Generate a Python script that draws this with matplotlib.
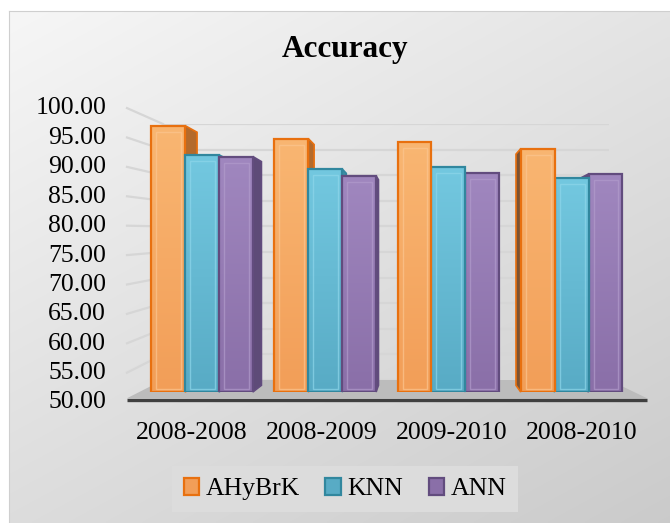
import numpy as np
import matplotlib
matplotlib.use("Agg")
import matplotlib.pyplot as plt
from matplotlib.patches import Polygon, Rectangle, Patch
from matplotlib.lines import Line2D

# ---- data -------------------------------------------------------------
periods = ["2008-2008", "2008-2009", "2009-2010", "2008-2010"]
series_names = ["AHyBrK", "KNN", "ANN"]
ahybrk = [97.4, 95.1, 94.4, 93.3]
knn = [92.2, 89.7, 90.0, 88.0]
ann = [91.9, 88.5, 89.0, 88.8]
y_ticks = [50, 55, 60, 65, 70, 75, 80, 85, 90, 95, 100]

# ---- styling ----------------------------------------------------------
SERIF = ["Liberation Serif", "DejaVu Serif"]
styles = {
    "AHyBrK": dict(top="#F9B672", bottom="#F29E58", edge="#E8700F",
                   inner="#FBC590", side_r="#B36A2C", side_l="#7A5233"),
    "KNN": dict(top="#73C8E0", bottom="#58ABC5", edge="#31879E",
                inner="#8ED6EA", side_r="#3E8DA4", side_l="#3E8DA4"),
    "ANN": dict(top="#A087BF", bottom="#8A6FA8", edge="#624C7E",
                inner="#B19BCB", side_r="#5E4B78", side_l="#5E4B78"),
}

W, H = 670, 523
fig = plt.figure(figsize=(W / 100, H / 100), dpi=100)
fig.patch.set_facecolor("white")


def box(l, t, r, b):
    return [l / W, 1 - b / H, (r - l) / W, (b - t) / H]


# chart area background: soft diagonal grey gradient
bg_ax = fig.add_axes(box(9, 11, 670, 523))
bg_ax.set_zorder(-10)
gx, gy = np.meshgrid(np.linspace(0, 1, 200), np.linspace(0, 1, 200))
shade = 0.965 - 0.10 * gy - 0.07 * gx
bg_ax.imshow(np.dstack([shade, shade, shade]), aspect="auto",
             extent=(0, 1, 0, 1), origin="upper", interpolation="bilinear")
bg_ax.set_xlim(0, 1)
bg_ax.set_ylim(0, 1)
for s in bg_ax.spines.values():
    s.set_visible(False)
bg_ax.spines["top"].set_visible(True)
bg_ax.spines["left"].set_visible(True)
bg_ax.spines["top"].set_color("#cfcfcf")
bg_ax.spines["left"].set_color("#cfcfcf")
bg_ax.set_xticks([])
bg_ax.set_yticks([])

# back wall with horizontal gridlines
wall_ax = fig.add_axes(box(163, 124, 609, 380))
wall_ax.set_zorder(0)
wall_ax.set_facecolor("none")
wall_ax.set_xlim(0, 1)
wall_ax.set_ylim(50, 100)
wall_ax.set_yticks(y_ticks)
wall_ax.set_xticks([])
wall_ax.tick_params(left=False, labelleft=False)
wall_ax.yaxis.grid(True, color="#d6d6d6", lw=1.6)
for s in wall_ax.spines.values():
    s.set_visible(False)

# front plane carrying the axis labels
label_ax = fig.add_axes(box(127, 106, 647, 400))
label_ax.set_zorder(0.2)
label_ax.set_facecolor("none")
label_ax.set_xlim(-0.5, len(periods) - 0.5)
label_ax.set_ylim(50, 100)
label_ax.set_yticks(y_ticks)
label_ax.set_yticklabels([f"{v:.2f}" for v in y_ticks], fontfamily=SERIF,
                         fontsize=18.5)
label_ax.set_xticks(range(len(periods)))
label_ax.set_xticklabels(periods, fontfamily=SERIF, fontsize=18.5)
label_ax.tick_params(axis="y", length=0, pad=15)
label_ax.tick_params(axis="x", length=0, pad=16)
for s in label_ax.spines.values():
    s.set_visible(False)

to_fig = fig.transFigure.inverted()


def fig_pt(axis, x, y):
    return to_fig.transform(axis.transData.transform((x, y)))


# side wall gridlines running from the front plane to the back wall
for v in y_ticks[1:]:
    p0 = fig_pt(label_ax, -0.5, v)
    p1 = fig_pt(wall_ax, 0, v)
    fig.add_artist(Line2D([p0[0], p1[0]], [p0[1] - 0.004, p1[1]],
                          transform=fig.transFigure, color="#d6d6d6",
                          lw=1.6, zorder=0.1))

# floor
floor = [fig_pt(wall_ax, 0, 50), fig_pt(wall_ax, 1, 50),
         fig_pt(label_ax, len(periods) - 0.5, 50.3),
         fig_pt(label_ax, -0.5, 50.3)]
fig.add_artist(Polygon(floor, closed=True, transform=fig.transFigure,
                       facecolor="#bcbcbc", edgecolor="none", zorder=0.5))
f0 = fig_pt(label_ax, -0.5, 50)
f1 = fig_pt(label_ax, len(periods) - 0.5, 50)
fig.add_artist(Line2D([f0[0], f1[0]], [f0[1], f1[1]],
                      transform=fig.transFigure, color="#404040", lw=2.4,
                      solid_capstyle="butt", zorder=0.6))

# ---- bars -------------------------------------------------------------
ax = fig.add_axes(box(140.4, 111, 633.2, 392))
ax.set_zorder(1)
ax.set_facecolor("none")
ax.axis("off")
ax.set_xlim(-0.5, len(periods) - 0.5)
ax.set_ylim(50, 100)
ax.set_autoscale_on(False)

values = {"AHyBrK": ahybrk, "KNN": knn, "ANN": ann}
width = 0.275
x = np.arange(len(periods))
vp = np.array([425.0, H - 258.0])   # vanishing point (display px)
depth = 0.05

grad = np.linspace(0, 1, 64).reshape(-1, 1)


def back(p):
    p = np.asarray(p, float)
    return p + depth * (vp - p)


for si, name in enumerate(series_names):
    st = styles[name]
    offs = (si - 1) * width
    c_top = np.array(matplotlib.colors.to_rgb(st["top"]))
    c_bot = np.array(matplotlib.colors.to_rgb(st["bottom"]))
    img = c_top[None, None, :] * (1 - grad[:, :, None]) + \
        c_bot[None, None, :] * grad[:, :, None]
    for gi, val in enumerate(values[name]):
        x0 = x[gi] + offs - width / 2
        x1 = x0 + width
        # bars left of the vanishing point stack left-to-right, others reversed
        cx_disp = ax.transData.transform((x[gi], 50))[0]
        order = si if cx_disp < vp[0] else (2 - si)
        z = 3 + order * 0.1

        bar = ax.bar(x[gi] + offs, val - 50, width=width, bottom=50,
                     facecolor="none", edgecolor=st["edge"], lw=1.6,
                     zorder=z + 0.04)[0]
        im = ax.imshow(img, extent=(x0, x1, 50, val), aspect="auto",
                       zorder=z + 0.02, interpolation="bilinear")
        im.set_clip_path(bar)

        # depth face on the side facing the viewer
        inv = ax.transData.inverted()
        (dl, db) = ax.transData.transform((x0, 50))
        (dr, dt) = ax.transData.transform((x1, val))

        if vp[0] > dr + 2:
            quad = [(dr, dt), (dr, db), back((dr, db)), back((dr, dt))]
            side_col = st["side_r"]
        elif vp[0] < dl - 2:
            quad = [(dl, dt), (dl, db), back((dl, db)), back((dl, dt))]
            side_col = st["side_l"]
        else:
            quad = None
        if quad is not None:
            ax.add_patch(Polygon(inv.transform(np.array(quad)), closed=True,
                                 facecolor=side_col, edgecolor=st["edge"],
                                 lw=1.2, zorder=z, clip_on=False))

        # inner bevel outline
        ib = inv.transform(np.array([(dl + 5, db + 3), (dr - 4, dt - 6)]))
        ax.add_patch(Rectangle(ib[0], ib[1][0] - ib[0][0],
                               ib[1][1] - ib[0][1], facecolor="none",
                               edgecolor=st["inner"], lw=1.0, alpha=0.7,
                               zorder=z + 0.03))

ax.set_xlim(-0.5, len(periods) - 0.5)
ax.set_ylim(50, 100)

# ---- title and legend -------------------------------------------------
fig.text(345 / W, 1 - 49 / H, "Accuracy", ha="center", va="center",
         fontsize=22.5, fontweight="bold", fontfamily=SERIF)

handles = [Patch(facecolor=styles[n]["bottom"], edgecolor=styles[n]["edge"],
                 lw=1.6) for n in series_names]
leg = fig.legend(handles, series_names, loc="center",
                 bbox_to_anchor=(345 / W, 1 - 489 / H), ncol=3,
                 frameon=True, fancybox=False, framealpha=1,
                 facecolor="#dcdcdc", edgecolor="none",
                 prop={"family": SERIF, "size": 18.5},
                 handlelength=0.6, handleheight=0.7, handletextpad=0.25,
                 columnspacing=1.0, borderpad=0.45)

fig.savefig("out.png", dpi=100)
